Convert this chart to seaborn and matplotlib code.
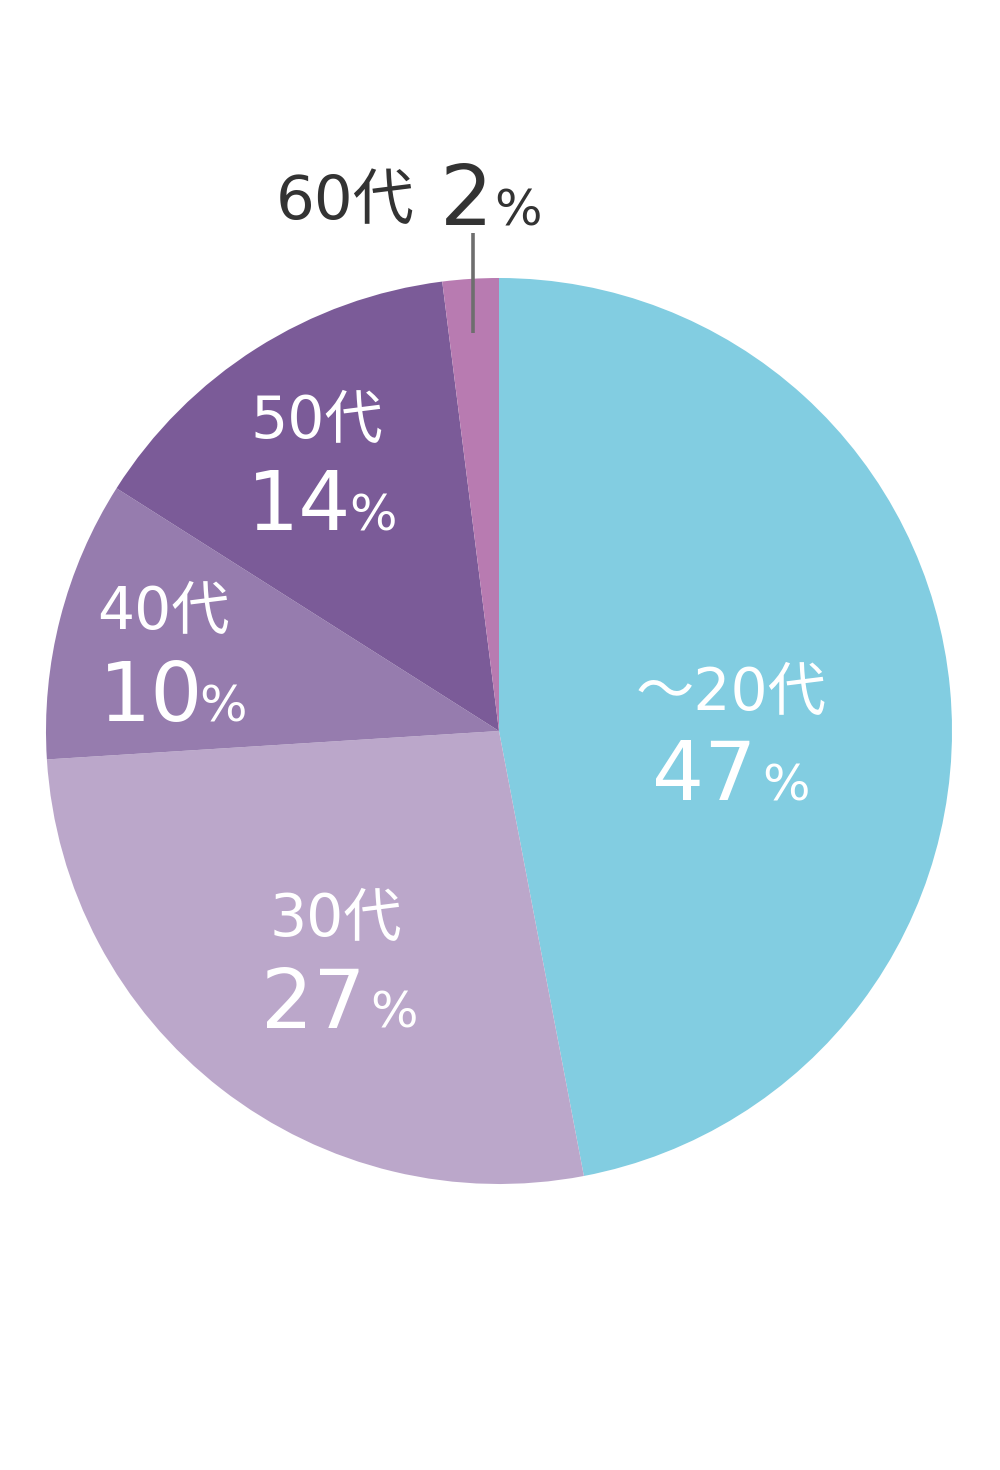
import matplotlib
matplotlib.use("Agg")
import matplotlib.pyplot as plt
import seaborn as sns

# age group shares (%), clockwise from 12 o'clock
ages = ["～20代", "30代", "40代", "50代", "60代"]
shares = [47, 27, 10, 14, 2]
colors = ["#82CDE1", "#BBA7CA", "#967CAE", "#7B5B98", "#B87BB1"]

sns.set_theme(style="white")
# wide latin digits first, CJK font for 代 and ～
fam = ["DejaVu Sans", "Noto Sans CJK JP"]
plt.rcParams["font.family"] = fam

fig = plt.figure(figsize=(10, 14.7), dpi=100)
ax = fig.add_axes([0, 0, 1, 1])

# y axis inverted -> counterclock in data = clockwise on screen
ax.pie(shares, colors=colors, center=(499, 731), radius=453,
       startangle=-90, counterclock=True,
       wedgeprops=dict(linewidth=0))
ax.set_xlim(0, 1000)
ax.set_ylim(1470, 0)
ax.set_aspect("equal")
ax.axis("off")

# label layout: (name x, name baseline, number x, number baseline, % x)
layout = {
    "～20代": (731, 710, 652, 800, 762),
    "30代": (270, 936, 261, 1028, 370),
    "40代": (97, 629, 99, 721, 199),
    "50代": (250, 438, 247, 530, 349),
}
for age, val in zip(ages, shares):
    if age not in layout:
        continue
    nx, ny, vx, vy, px = layout[age]
    ha = "center" if age.startswith("～") else "left"
    ax.text(nx, ny, age, color="white", fontsize=42, ha=ha, va="baseline")
    ax.text(vx, vy, str(val), color="white", fontsize=59, ha="left", va="baseline")
    ax.text(px, vy, "%", color="white", fontsize=36, ha="left", va="baseline")

# small slice: outside label with leader line
dark = "#333333"
ax.text(276, 219, ages[4], color=dark, fontsize=44, ha="left", va="baseline")
ax.text(440, 225, str(shares[4]), color=dark, fontsize=60, ha="left", va="baseline")
ax.text(494, 225, "%", color=dark, fontsize=36, ha="left", va="baseline")
ax.plot([473, 473], [233, 333], color="#6e6e6e", linewidth=2.6, solid_capstyle="butt")

fig.savefig("out.png", dpi=100, facecolor="white")
